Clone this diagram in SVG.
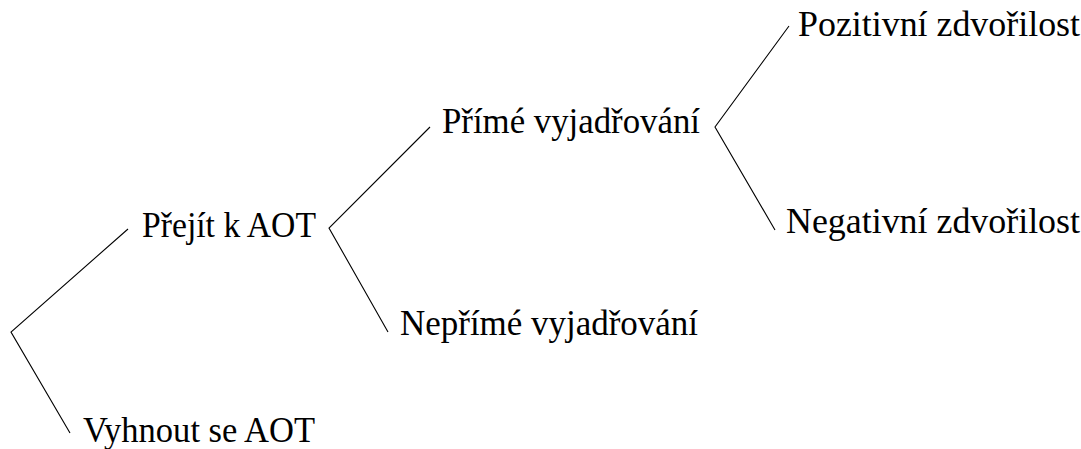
<svg xmlns="http://www.w3.org/2000/svg" width="1081" height="449" viewBox="0 0 1081 449">
<style>
text{font-family:"Liberation Serif","Times New Roman",serif;font-size:35px;fill:#000}
.c{stroke:#000;stroke-width:1.1;fill:none}
</style>
<rect width="1081" height="449" fill="#fff"/>
<g id="connectors">
<polyline class="c" points="128,229 11,332 70,433"/>
<polyline class="c" points="430,127 329,228 388,332"/>
<polyline class="c" points="789,26 715,127 775,230"/>
</g>
<g id="n-prejit"><text x="142" y="237" textLength="174" lengthAdjust="spacingAndGlyphs">Přejít k AOT</text></g>
<g id="n-vyhnout"><text x="83" y="442" textLength="232" lengthAdjust="spacingAndGlyphs">Vyhnout se AOT</text></g>
<g id="n-prime"><text x="442" y="133" textLength="258" lengthAdjust="spacingAndGlyphs">Přímé vyjadřování</text></g>
<g id="n-neprime"><text x="400" y="335" textLength="298" lengthAdjust="spacingAndGlyphs">Nepřímé vyjadřování</text></g>
<g id="n-pozitivni"><text x="798" y="36" textLength="282" lengthAdjust="spacingAndGlyphs">Pozitivní zdvořilost</text></g>
<g id="n-negativni"><text x="786" y="233" textLength="294" lengthAdjust="spacingAndGlyphs">Negativní zdvořilost</text></g>
</svg>
